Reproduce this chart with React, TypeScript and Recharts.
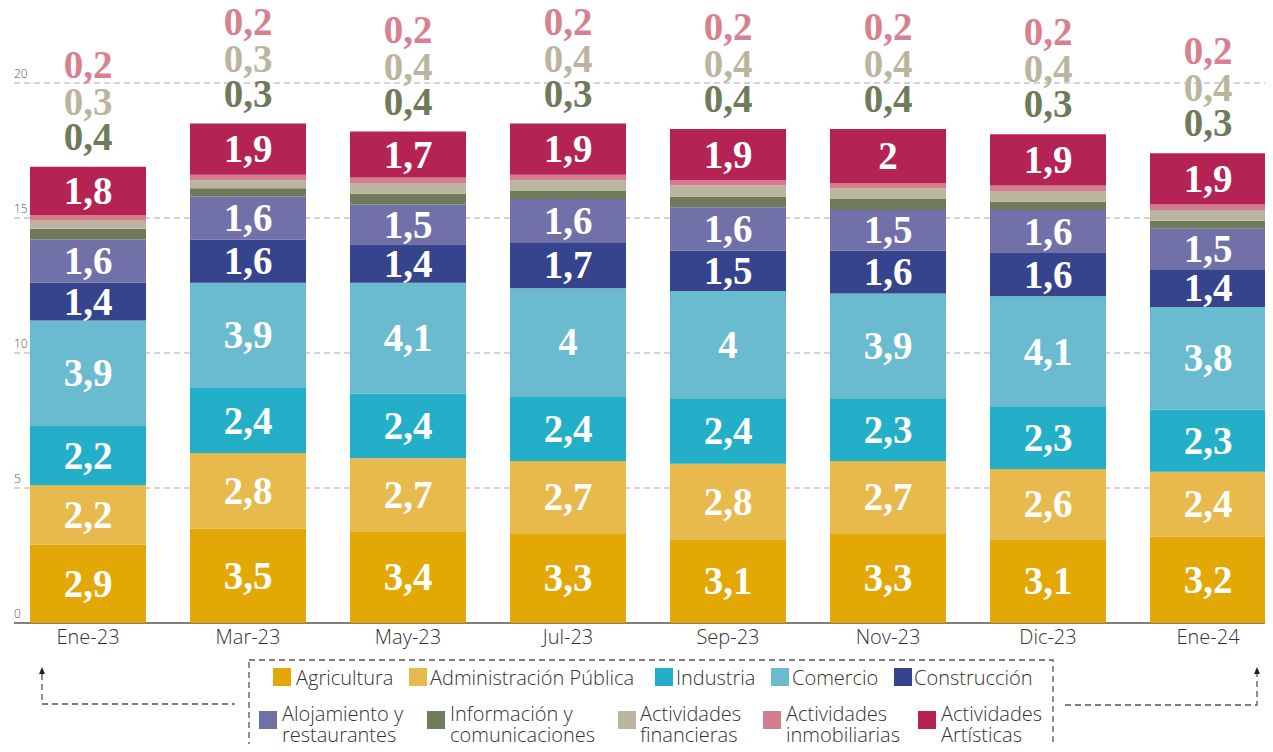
import { BarChart, Bar, XAxis, YAxis, CartesianGrid, LabelList, ReferenceLine } from 'recharts';

const months = ['Ene-23', 'Mar-23', 'May-23', 'Jul-23', 'Sep-23', 'Nov-23', 'Dic-23', 'Ene-24'];
const agricultura = [2.9, 3.5, 3.4, 3.3, 3.1, 3.3, 3.1, 3.2];
const administracion = [2.2, 2.8, 2.7, 2.7, 2.8, 2.7, 2.6, 2.4];
const industria = [2.2, 2.4, 2.4, 2.4, 2.4, 2.3, 2.3, 2.3];
const comercio = [3.9, 3.9, 4.1, 4, 4, 3.9, 4.1, 3.8];
const construccion = [1.4, 1.6, 1.4, 1.7, 1.5, 1.6, 1.6, 1.4];
const alojamiento = [1.6, 1.6, 1.5, 1.6, 1.6, 1.5, 1.6, 1.5];
const informacion = [0.4, 0.3, 0.4, 0.3, 0.4, 0.4, 0.3, 0.3];
const financieras = [0.3, 0.3, 0.4, 0.4, 0.4, 0.4, 0.4, 0.4];
const inmobiliarias = [0.2, 0.2, 0.2, 0.2, 0.2, 0.2, 0.2, 0.2];
const artisticas = [1.8, 1.9, 1.7, 1.9, 1.9, 2, 1.9, 1.9];
const yTicks = [0, 5, 10, 15, 20];

const series = [
  { key: 'agricultura', name: 'Agricultura', color: '#E3A805', values: agricultura, inside: true },
  { key: 'administracion', name: 'Administración Pública', color: '#E8BA4D', values: administracion, inside: true },
  { key: 'industria', name: 'Industria', color: '#23AFC7', values: industria, inside: true },
  { key: 'comercio', name: 'Comercio', color: '#6BBBD0', values: comercio, inside: true },
  { key: 'construccion', name: 'Construcción', color: '#36438D', values: construccion, inside: true },
  { key: 'alojamiento', name: 'Alojamiento y|restaurantes', color: '#7170A8', values: alojamiento, inside: true },
  { key: 'informacion', name: 'Información y|comunicaciones', color: '#6E7A5A', values: informacion, inside: false },
  { key: 'financieras', name: 'Actividades|financieras', color: '#BBB5A0', values: financieras, inside: false },
  { key: 'inmobiliarias', name: 'Actividades|inmobiliarias', color: '#D47C8F', values: inmobiliarias, inside: false },
  { key: 'artisticas', name: 'Actividades|Artísticas', color: '#B42353', values: artisticas, inside: true },
];

const data = months.map((month, i) => {
  const row: Record<string, string | number> = { month };
  series.forEach((s) => {
    row[s.key] = s.values[i];
  });
  return row;
});

const fmt = (v: number) => String(v).replace('.', ',');
const serif = '"Liberation Serif", serif';
const sans = '"Open Sans", sans-serif';

const InsideLabel = (props: any) => {
  const { x, y, width, height, value } = props;
  return (
    <text x={x + width / 2} y={y + height / 2 + 13} textAnchor="middle" fill="#fff"
      fontFamily={serif} fontWeight="bold" fontSize={39}>
      {fmt(value)}
    </text>
  );
};

const TopLabels = (props: any) => {
  const { x, y, width, index } = props;
  const cx = x + width / 2;
  const items = [
    { v: informacion[index], c: '#6E7A5A', dy: -30 },
    { v: financieras[index], c: '#BBB5A0', dy: -65 },
    { v: inmobiliarias[index], c: '#D8808F', dy: -102 },
  ];
  return (
    <g>
      {items.map((it, k) => (
        <text key={k} x={cx} y={y + it.dy + 13} textAnchor="middle" fill={it.c}
          fontFamily={serif} fontWeight="bold" fontSize={39}>
          {fmt(it.v)}
        </text>
      ))}
    </g>
  );
};

const GridLine = (props: any) => {
  const { y1, y2 } = props;
  if (y1 > 610) {
    return <line key={props.key} x1={14} x2={1273} y1={y1} y2={y2} stroke="#555" strokeWidth={1.5} />;
  }
  return <line key={props.key} x1={14} x2={1273} y1={y1} y2={y2} stroke="#aaa" strokeWidth={1.2} strokeDasharray="6 4" />;
};

const NoTick = () => <g />;

const YLabel = (props: any) => (
  <text x={14} y={props.viewBox.y - 5} fontFamily={sans} fontWeight={300} fontSize={12} fill="#555">
    {props.value}
  </text>
);

const XTick = (props: any) => (
  <text x={props.x} y={644} textAnchor="middle" fontFamily={sans} fontWeight={300} fontSize={20} fill="#333">
    {props.payload.value}
  </text>
);

const legendRow1 = [
  { i: 0, sx: 273, tx: 296 },
  { i: 1, sx: 409, tx: 430 },
  { i: 2, sx: 655, tx: 676 },
  { i: 3, sx: 771, tx: 792 },
  { i: 4, sx: 894, tx: 914 },
];
const legendRow2 = [
  { i: 5, sx: 259, tx: 282 },
  { i: 6, sx: 427, tx: 450 },
  { i: 7, sx: 618, tx: 640 },
  { i: 8, sx: 763, tx: 786 },
  { i: 9, sx: 918, tx: 941 },
];

const Overlay = () => (
  <svg width={1273} height={752} style={{ position: 'absolute', left: 0, top: 0, pointerEvents: 'none' }}>
    <rect x={12} y={0} width={10} height={3} fill="#111" />
    <rect x={249} y={660} width={804} height={90} fill="none" stroke="#555" strokeWidth={1.3} strokeDasharray="6 4" />
    <polyline points="42,674 42,704 235,704" fill="none" stroke="#555" strokeWidth={1.3} strokeDasharray="6 4" />
    <polygon points="42,667 39,674 45,674" fill="#222" />
    <polyline points="1065,705 1257,705 1257,674" fill="none" stroke="#555" strokeWidth={1.3} strokeDasharray="6 4" />
    <polygon points="1257,667 1254,674 1260,674" fill="#222" />
    {legendRow1.map((l) => (
      <g key={series[l.i].key}>
        <rect x={l.sx} y={668} width={18} height={18} fill={series[l.i].color} />
        <text x={l.tx} y={685} fontFamily={sans} fontWeight={300} fontSize={20} fill="#333">
          {series[l.i].name}
        </text>
      </g>
    ))}
    {legendRow2.map((l) => (
      <g key={series[l.i].key}>
        <rect x={l.sx} y={711} width={18} height={18} fill={series[l.i].color} />
        {series[l.i].name.split('|').map((line, k) => (
          <text key={k} x={l.tx} y={721 + k * 21} fontFamily={sans} fontWeight={300} fontSize={20} fill="#333">
            {line}
          </text>
        ))}
      </g>
    ))}
    <text x={1198} y={759} fontFamily={sans} fontWeight={600} fontSize={13} fill="#222">Fuente: Dane</text>
  </svg>
);

export default function App() {
  return (
    <div style={{ position: 'relative', width: 1273, height: 752, margin: -8, overflow: 'hidden', background: '#fff' }}>
      <BarChart width={1300} height={752} data={data} margin={{ top: 2, right: 12, bottom: 99, left: 8 }}>
        <CartesianGrid vertical={false} horizontal={GridLine} horizontalValues={yTicks} />
        <XAxis dataKey="month" height={30} axisLine={false} tickLine={false} tick={<XTick />} interval={0} />
        <YAxis width={0} domain={[0, 23]} ticks={yTicks} axisLine={false} tickLine={false} tick={<NoTick />} />
        {yTicks.map((t) => (
          <ReferenceLine key={t} y={t} stroke="none" ifOverflow="visible" label={<YLabel value={t} />} />
        ))}
        {series.map((s) => (
          <Bar key={s.key} dataKey={s.key} stackId="a" fill={s.color} barSize={116} isAnimationActive={false}>
            {s.inside && <LabelList dataKey={s.key} content={<InsideLabel />} />}
            {s.key === 'artisticas' && <LabelList dataKey={s.key} content={<TopLabels />} />}
          </Bar>
        ))}
      </BarChart>
      <Overlay />
    </div>
  );
}
